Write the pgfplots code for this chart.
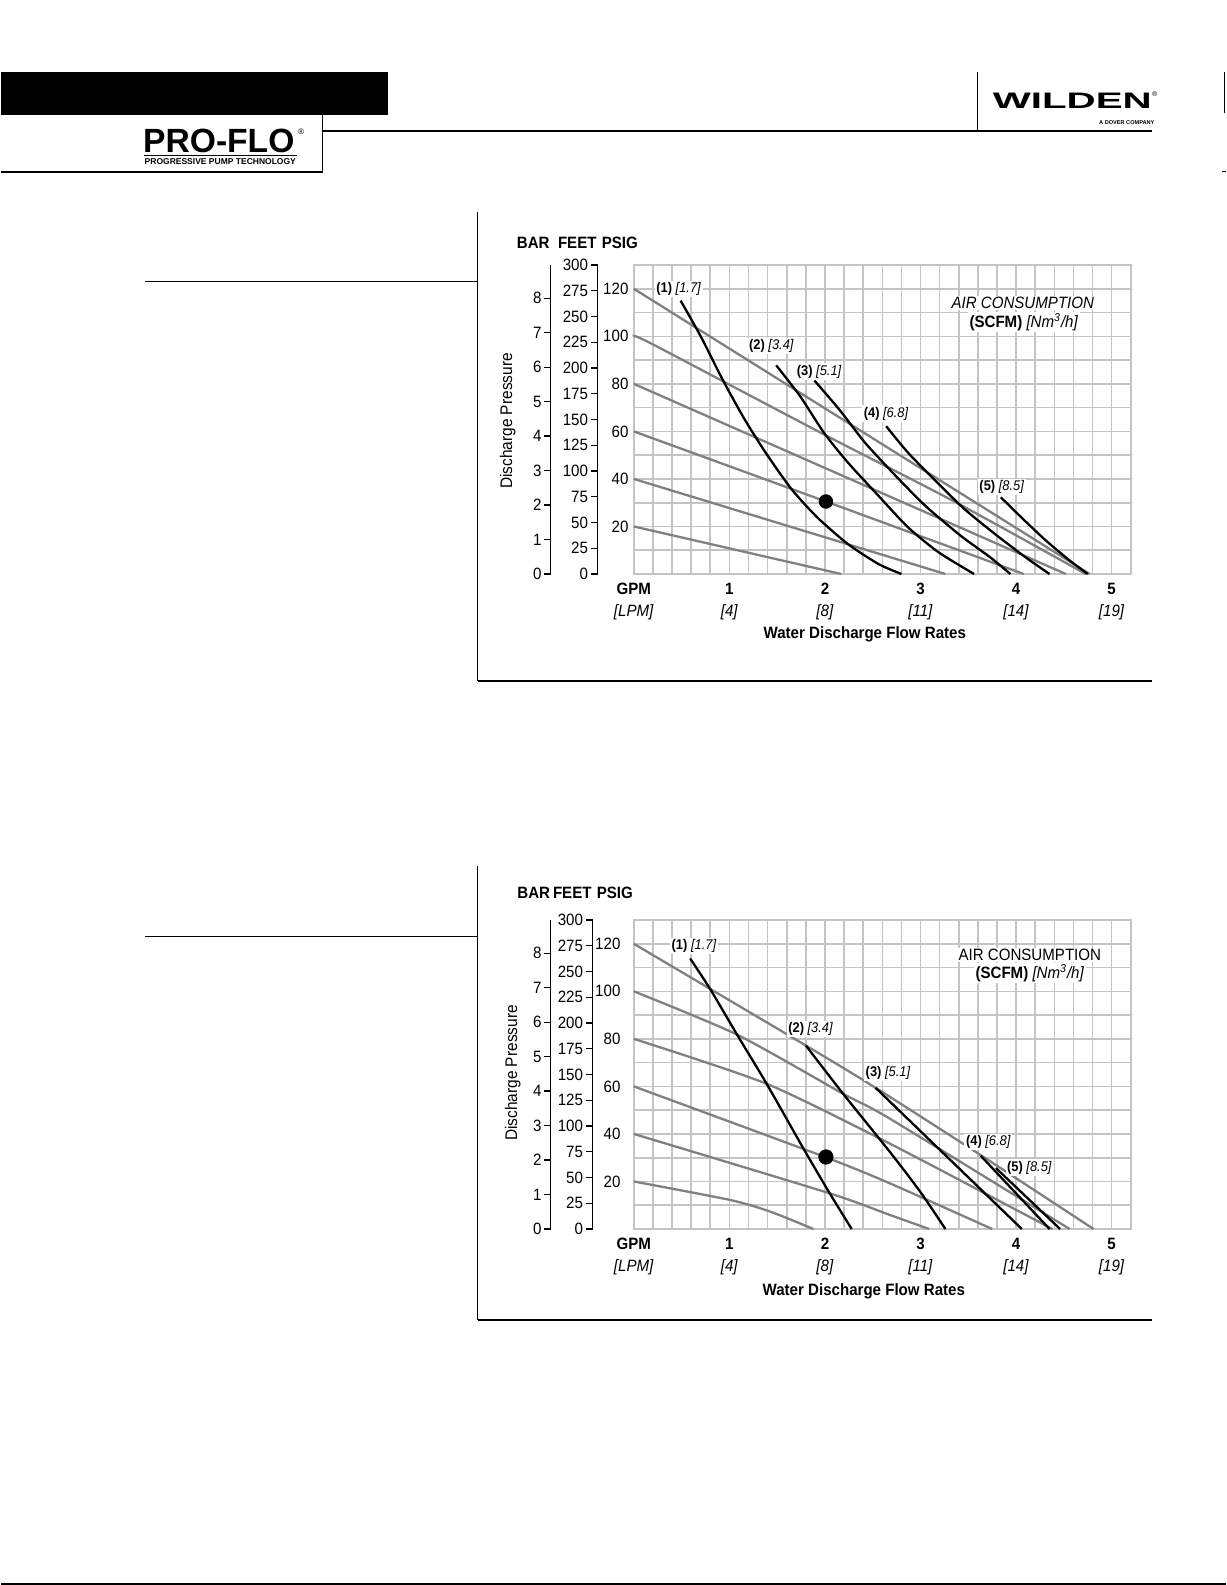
\documentclass[border=0pt]{standalone}
\usepackage{graphicx}
\usepackage{pgfplots}
\pgfplotsset{compat=1.18}
\usepackage{fontspec}
\setmainfont{Liberation Sans}[FakeStretch=0.92]
\newfontfamily\plainfont{Liberation Sans}
\newfontfamily\widefont{Liberation Sans}[FakeStretch=1.8]
\definecolor{gridc}{gray}{0.77}
\definecolor{curvegray}{gray}{0.5}

\tikzset{clab/.style={font=\fontsize{7}{8}\selectfont, inner sep=0.8pt, fill=white}}
\pgfplotsset{
  mainchart/.style={
    scale only axis, width=248.5pt, height=154.5pt,
    anchor=south west,
    xmin=0, xmax=5.2, ymin=0, ymax=130,
    axis line style={gridc, line width=0.8pt},
    xtick={0,1,2,3,4,5},
    minor xtick={0.2,0.4,0.6,0.8,1.2,1.4,1.6,1.8,2.2,2.4,2.6,2.8,3.2,3.4,3.6,3.8,4.2,4.4,4.6,4.8,5.2},
    ytick={20,40,60,80,100,120},
    minor ytick={10,30,50,70,90,110,130},
    grid=both,
    major grid style={gridc, line width=0.8pt},
    minor grid style={gridc, line width=0.8pt},
    major tick length=0pt, minor tick length=0pt,
    xticklabels={{\textbf{GPM}\\\textit{[LPM]}},{\textbf{1}\\\textit{[4]}},{\textbf{2}\\\textit{[8]}},{\textbf{3}\\\textit{[11]}},{\textbf{4}\\\textit{[14]}},{\textbf{5}\\\textit{[19]}}},
    yticklabels={20,40,60,80,100,120},
    xticklabel style={align=center, font=\fontsize{8.2}{11}\selectfont, anchor=north, inner sep=0pt, yshift=-4.5pt},
    yticklabel style={font=\fontsize{8.2}{10}\selectfont, anchor=east, inner sep=0pt},
    clip=false,
  },
  sideaxis/.style={
    scale only axis, width=10pt, height=154.5pt, anchor=south west,
    xmin=0, xmax=1, ymin=0,
    hide x axis, axis y line*=left,
    y axis line style={-, black, line width=0.65pt},
    tick align=outside, major tick length=3.2pt,
    ytick style={black, line width=0.65pt},
    /pgf/number format/assume math mode=true,
    yticklabel style={font=\fontsize{8.2}{10}\selectfont, anchor=east, inner sep=0pt},
  },
  graycurve/.style={curvegray, line width=1.15pt, smooth, tension=0.4, mark=none},
  blackcurve/.style={black, line width=1.15pt, smooth, tension=0.4, mark=none},
}

\begin{document}
\fontsize{8.2}{10}\selectfont
\begin{tikzpicture}
\path (0pt,0pt) rectangle (612.5pt,-792.5pt);

\begin{scope}[x=0.5pt,y=0.5pt]
% ---------- page header ----------
\fill[black] (0,-72) rectangle (387,-115);
\draw[line width=0.65pt] (322,-115) -- (322,-172) -- (0,-172);
\draw[line width=0.9pt] (322,-131) -- (1151,-131);
\node[anchor=base, inner sep=0pt, font=\plainfont\bfseries\fontsize{16.8}{18}\selectfont] at (218,-152) {PRO-FLO};
\node[anchor=base west, inner sep=0pt, font=\plainfont\fontsize{4}{5}\selectfont] at (297,-134) {\textregistered};
\draw[line width=0.5pt] (143,-155) -- (296,-155);
\node[anchor=base, inner sep=0pt, font=\plainfont\bfseries\fontsize{4.25}{5}\selectfont] at (219.5,-164) {PROGRESSIVE PUMP TECHNOLOGY};
\draw[line width=0.5pt] (977,-72) -- (977,-131);
\node[anchor=base, inner sep=0pt, font=\widefont\bfseries\fontsize{11.2}{12}\selectfont] at (1071.5,-108) {WILDEN};
\node[anchor=base west, inner sep=0pt, font=\plainfont\fontsize{3.5}{4}\selectfont] at (1151,-96) {\textregistered};
\node[anchor=base, inner sep=0pt, font=\plainfont\bfseries\fontsize{2.8}{3}\selectfont] at (1126,-124) {A DOVER COMPANY};
\draw[line width=0.5pt] (1224,-72) -- (1224,-113);
\draw[line width=0.5pt] (1221,-171) -- (1225,-171);
\draw[line width=0.8pt] (0,-1584) -- (1225,-1584);

% ---------- frames ----------
\draw[line width=0.5pt] (144,-281) -- (477,-281);
\draw[line width=0.5pt] (477,-212) -- (477,-681);
\draw[line width=0.8pt] (477,-681) -- (1151,-681);
\draw[line width=0.5pt] (144,-936) -- (477,-936);
\draw[line width=0.5pt] (477,-866) -- (477,-1320);
\draw[line width=0.8pt] (477,-1320) -- (1151,-1320);
\end{scope}

% =============== CHART 1 ===============
\begin{axis}[sideaxis, at={(275pt,-287pt)}, ymax=8.963, ytick={0,1,2,3,4,5,6,7,8},
  yticklabel style={xshift=-1.2pt}]
\end{axis}
\begin{axis}[sideaxis, at={(298.5pt,-287pt)}, ymax=300, ytick={0,25,50,75,100,125,150,175,200,225,250,275,300},
  yticklabel style={xshift=-1.5pt}]
\end{axis}
\begin{axis}[mainchart, at={(316.5pt,-287pt)}, yticklabel style={xshift=-2.5pt}]
% air pressure lines
\addplot[graycurve] coordinates {(0,120) (4.77,0)};
\addplot[graycurve] coordinates {(0,100) (0.2,96.6) (2.0,58.5) (3.33,31) (4.73,0)};
\addplot[graycurve] coordinates {(0,80) (4.52,0)};
\addplot[graycurve] coordinates {(0,60) (2.01,30.5) (4.08,0)};
\addplot[graycurve] coordinates {(0,40) (3.26,0)};
\addplot[graycurve] coordinates {(0,20) (2.17,0)};
% air consumption curves
\addplot[blackcurve] coordinates {(0.49,115) (0.70,100) (0.92,82.5) (1.15,65.7) (1.38,51) (1.65,35.7) (1.92,23.8) (2.24,12.6) (2.56,4.2) (2.80,0)};
\addplot[blackcurve] coordinates {(1.49,87.8) (1.74,74.8) (1.99,59.4) (2.24,46.9) (2.56,32.9) (2.87,19.6) (3.19,9.1) (3.56,0)};
\addplot[blackcurve] coordinates {(1.89,81.4) (2.15,69.2) (2.42,55.2) (2.74,41.3) (3.05,28.7) (3.42,16.1) (3.73,7) (3.94,0)};
\addplot[blackcurve] coordinates {(2.64,62.2) (2.87,51) (3.14,39.9) (3.46,27.3) (3.78,16.8) (4.10,7) (4.35,0)};
\addplot[blackcurve] coordinates {(3.84,32.3) (4.05,24) (4.30,14.5) (4.55,6) (4.75,0)};
\addplot[only marks, mark=*, mark size=3.4pt, black] coordinates {(2.01,30.5)};
\node[clab] at (axis cs:0.47,119.8) {\textbf{(1)} \textit{[1.7]}};
\node[clab] at (axis cs:1.44,95.8) {\textbf{(2)} \textit{[3.4]}};
\node[clab] at (axis cs:1.94,85.2) {\textbf{(3)} \textit{[5.1]}};
\node[clab] at (axis cs:2.64,67.5) {\textbf{(4)} \textit{[6.8]}};
\node[clab] at (axis cs:3.85,36.7) {\textbf{(5)} \textit{[8.5]}};
\end{axis}

% =============== CHART 2 ===============
\begin{axis}[sideaxis, at={(275pt,-614.5pt)}, ymax=8.963, ytick={0,1,2,3,4,5,6,7,8},
  yticklabel style={xshift=-1.2pt}]
\end{axis}
\begin{axis}[sideaxis, at={(296pt,-614.5pt)}, ymax=300, ytick={0,25,50,75,100,125,150,175,200,225,250,275,300},
  yticklabel style={xshift=-1.5pt}]
\end{axis}
\begin{axis}[mainchart, at={(316.5pt,-614.5pt)}, yticklabel style={xshift=-6.5pt}]
\addplot[graycurve] coordinates {(0,120) (1.8,77.2) (2.53,59.4) (3.66,30.3) (4.81,0)};
\addplot[graycurve] coordinates {(0,100) (1.08,81.8) (2.19,56.9) (2.68,46.4) (4.56,0)};
\addplot[graycurve] coordinates {(0,80) (1.39,61.1) (2.68,35.9) (4.38,0)};
\addplot[graycurve] coordinates {(0,60) (2.0,30.3) (2.68,19.2) (3.75,0)};
\addplot[graycurve] coordinates {(0,40) (2.05,15) (2.68,5.9) (3.09,0)};
\addplot[graycurve] coordinates {(0,20) (1.01,12.2) (1.43,7.3) (1.88,0)};
\addplot[blackcurve] coordinates {(0.59,113.8) (0.80,100.9) (1.08,81.8) (1.39,61.1) (1.77,34.2) (2.05,15) (2.28,0)};
\addplot[blackcurve] coordinates {(1.80,77.2) (2.19,56.9) (2.68,32.4) (3.0,15.5) (3.26,0)};
\addplot[blackcurve] coordinates {(2.53,59.4) (3.3,29.5) (4.06,0)};
\addplot[blackcurve] coordinates {(3.63,30.8) (4.35,0)};
\addplot[blackcurve] coordinates {(3.79,25.6) (4.46,0)};
\addplot[only marks, mark=*, mark size=3.6pt, black] coordinates {(2.01,30.3)};
\node[clab] at (axis cs:0.63,119) {\textbf{(1)} \textit{[1.7]}};
\node[clab] at (axis cs:1.85,84.1) {\textbf{(2)} \textit{[3.4]}};
\node[clab] at (axis cs:2.66,65.5) {\textbf{(3)} \textit{[5.1]}};
\node[clab] at (axis cs:3.71,36.6) {\textbf{(4)} \textit{[6.8]}};
\node[clab] at (axis cs:4.14,25.9) {\textbf{(5)} \textit{[8.5]}};
\end{axis}

% ---------- chart texts (drawn over the grids) ----------
\begin{scope}[x=0.5pt,y=0.5pt]
\node[font=\bfseries] at (532.5,-243) {BAR};
\node[font=\bfseries] at (576.5,-243) {FEET};
\node[font=\bfseries] at (619,-243) {PSIG};
\node[rotate=90, font=\fontsize{8.4}{10}\selectfont] at (507,-421) {Discharge Pressure};
\node[font=\bfseries] at (864,-634) {Water Discharge Flow Rates};
\node[font=\itshape, fill=white, inner sep=0.8pt] at (1022,-303) {AIR CONSUMPTION};
\node[fill=white, inner sep=0.8pt] at (1023,-322) {\textbf{(SCFM)} \textit{[Nm\textsuperscript{3}/h]}};

\node[font=\bfseries] at (533,-893) {BAR};
\node[font=\bfseries] at (571.5,-893) {FEET};
\node[font=\bfseries] at (614,-893) {PSIG};
\node[rotate=90, font=\fontsize{8.4}{10}\selectfont] at (512,-1073) {Discharge Pressure};
\node[font=\bfseries] at (863,-1291) {Water Discharge Flow Rates};
\node[fill=white, inner sep=0.8pt] at (1029,-955) {AIR CONSUMPTION};
\node[fill=white, inner sep=0.8pt] at (1029,-973) {\textbf{(SCFM)} \textit{[Nm\textsuperscript{3}/h]}};
\end{scope}
\end{tikzpicture}
\end{document}
